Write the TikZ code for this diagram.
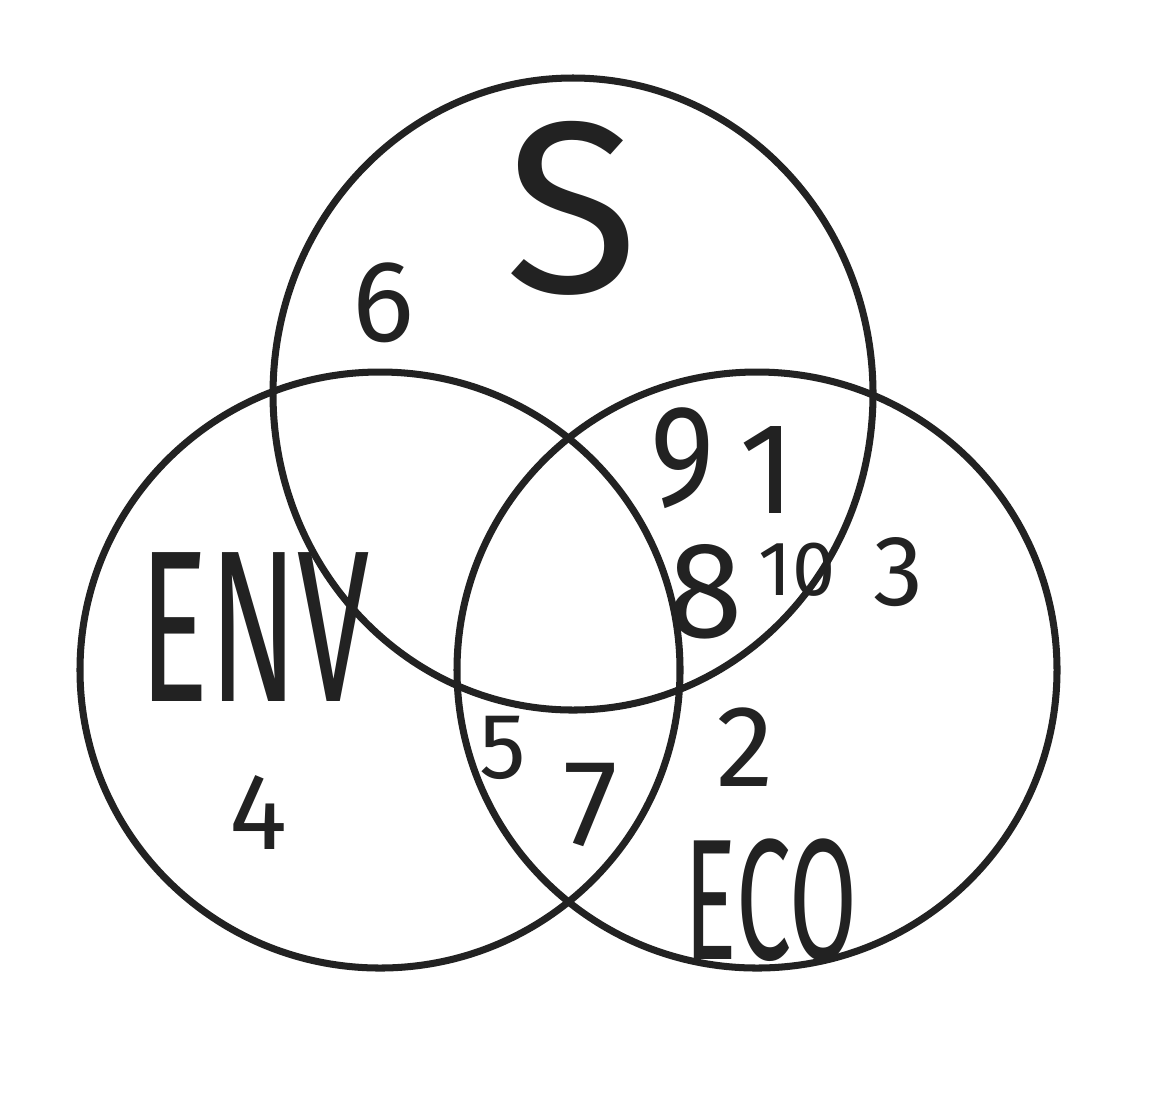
\documentclass[tikz,border=0pt]{standalone}
\usepackage{fontspec}
\usepackage{graphicx}
\usepackage{tikz}
\usepackage{xcolor}
\setmainfont{Fira Sans}
\definecolor{inkgray}{RGB}{34, 34, 34}
\newcommand{\handsize}[1]{\fontsize{#1}{#1}\selectfont}

\begin{document}
\begin{tikzpicture}[x=0.02cm, y=-0.02cm,
    ring/.style={line width=4pt, draw=inkgray},
    hand/.style={text=inkgray, inner sep=0pt}]
    \useasboundingbox[fill=white] (0,0) rectangle (1168,1110);

    % Circles
    \draw[ring] (573,394) ellipse [x radius=300, y radius=316]; % S
    \draw[ring] (380,670) ellipse [x radius=300, y radius=298]; % ENV
    \draw[ring] (757,670) ellipse [x radius=300, y radius=298]; % ECO

    % Set names
    \node[hand, font=\handsize{139pt}] (nameS) at (572,208) {S};
    \node[hand, font=\handsize{123pt}] (nameENV) at (255,627) {\scalebox{0.6}[1]{ENV}};
    \node[hand, font=\handsize{98pt}] (nameECO) at (771,900) {\scalebox{0.57}[1]{ECO}};

    % S only
    \node[hand, font=\handsize{66pt}] (numSix) at (383,303) {6};
    % S and ECO
    \node[hand, font=\handsize{82pt}] (numNine) at (683,458) {\scalebox{0.85}[1]{9}};
    \node[hand, font=\handsize{74pt}] (numOne) at (768,470) {1};
    \node[hand, font=\handsize{78pt}] (numEight) at (705,592) {8};
    \node[hand, font=\handsize{44pt}] (numTen) at (797,570) {10};
    % ECO only
    \node[hand, font=\handsize{57pt}] (numThree) at (898,572) {3};
    \node[hand, font=\handsize{66pt}] (numTwo) at (745,747) {2};
    % ENV and ECO
    \node[hand, font=\handsize{53pt}] (numFive) at (503,748) {5};
    \node[hand, font=\handsize{70pt}] (numSeven) at (591,805) {7};
    % ENV only
    \node[hand, font=\handsize{62pt}] (numFour) at (258,812) {4};
\end{tikzpicture}
\end{document}
